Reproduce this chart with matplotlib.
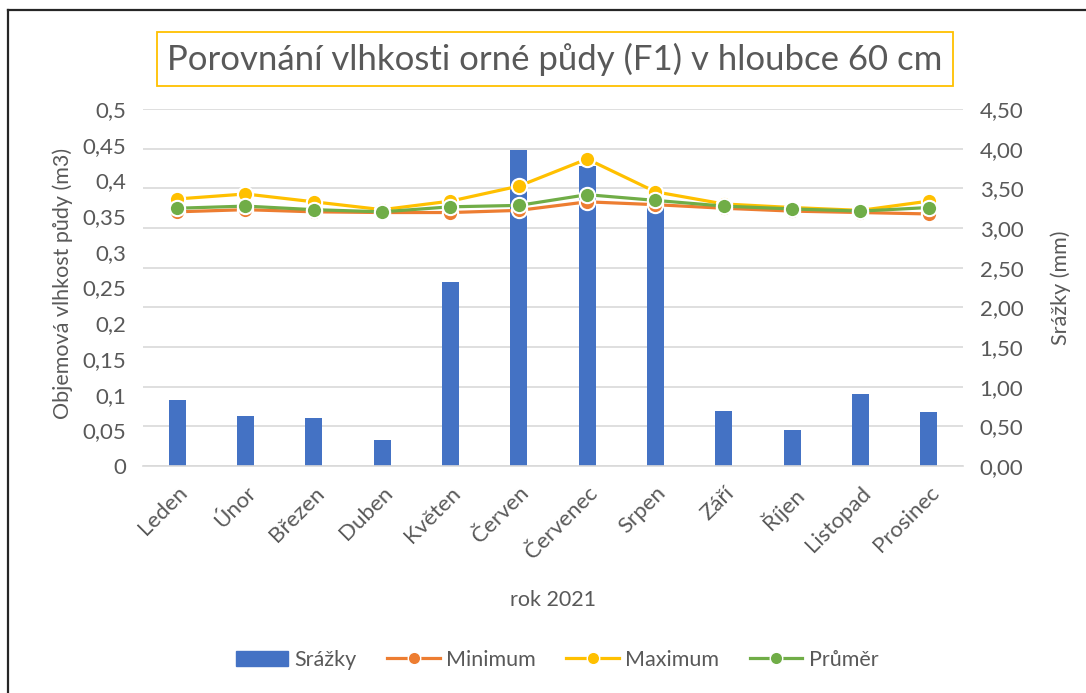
import numpy as np
import matplotlib
matplotlib.use('Agg')
import matplotlib.pyplot as plt
from matplotlib.lines import Line2D
from matplotlib.patches import Patch

plt.rcParams['font.family'] = ['Lato', 'DejaVu Sans']

mesice = ['Leden', 'Únor', 'Březen', 'Duben', 'Květen', 'Červen',
          'Červenec', 'Srpen', 'Září', 'Říjen', 'Listopad', 'Prosinec']
srazky = [0.83, 0.63, 0.61, 0.33, 2.32, 3.98, 3.78, 3.30, 0.69, 0.45, 0.91, 0.68]
minimum = [0.356, 0.359, 0.356, 0.355, 0.355, 0.358, 0.370, 0.366, 0.361, 0.357, 0.355, 0.353]
maximum = [0.374, 0.381, 0.370, 0.359, 0.371, 0.392, 0.430, 0.384, 0.367, 0.362, 0.358, 0.371]
prumer = [0.361, 0.364, 0.359, 0.356, 0.363, 0.365, 0.380, 0.372, 0.364, 0.360, 0.357, 0.362]

seda = '#595959'
x = np.arange(len(mesice))

fig = plt.figure(figsize=(10.86, 6.93), dpi=100)
ax = fig.add_axes([143/1086, 1 - 466/693, 820/1086, 357/693])
ax2 = ax.twinx()

# bars on the right axis, drawn behind the lines
ax2.bar(x, srazky, width=0.25, color='#4472C4', zorder=2)
ax2.set_ylim(0, 4.5)
ax2.set_yticks(np.arange(0, 4.51, 0.5))
ax2.set_yticklabels([f'{v:.2f}'.replace('.', ',') for v in np.arange(0, 4.51, 0.5)])
ax2.set_ylabel('Srážky (mm)', fontsize=15.5, color=seda)
ax2.yaxis.set_label_coords(1.107, 0.5)

ax.set_zorder(ax2.get_zorder() + 1)
ax.patch.set_visible(False)
for data, barva in [(minimum, '#ED7D31'), (maximum, '#FFC000'), (prumer, '#70AD47')]:
    ax.plot(x, data, color=barva, lw=2.3, marker='o', ms=11,
            markerfacecolor=barva, markeredgecolor='white', markeredgewidth=1.5)
ax.set_ylim(0, 0.5)
ax.set_xlim(-0.5, 11.5)
ax.set_yticks(np.arange(0, 0.501, 0.05))
ax.set_yticklabels(['0', '0,05', '0,1', '0,15', '0,2', '0,25', '0,3', '0,35', '0,4', '0,45', '0,5'])
ax.set_ylabel('Objemová vlhkost půdy (m3)', fontsize=15.5, color=seda)
ax.yaxis.set_label_coords(-0.085, 0.51)
ax.set_xticks(x)
ax.set_xticklabels(mesice, rotation=45, ha='right', rotation_mode='anchor')
ax.set_xlabel('rok 2021', fontsize=15.5, color=seda)
ax.xaxis.set_label_coords(0.5, -0.348)

ax2.grid(axis='y', color='#D9D9D9', lw=1.2, zorder=0)
ax2.set_axisbelow(True)
for a in (ax, ax2):
    for s in a.spines.values():
        s.set_visible(False)
    a.tick_params(length=0, labelsize=16, labelcolor=seda)
ax.spines['bottom'].set_visible(True)
ax.spines['bottom'].set_color('#D9D9D9')
ax.spines['bottom'].set_linewidth(1.2)
ax.tick_params(axis='x', pad=12, labelsize=16)
ax.tick_params(axis='y', pad=12)
ax2.tick_params(axis='y', pad=12)

fig.text(555/1086, 1 - 59/693, 'Porovnání vlhkosti orné půdy (F1) v hloubce 60 cm',
         ha='center', va='center', fontsize=25, color=seda,
         bbox=dict(boxstyle='square,pad=0.3', fc='white', ec='#FFC000', lw=1.3))

handles = [Patch(color='#4472C4', label='Srážky')]
for nazev, barva in [('Minimum', '#ED7D31'), ('Maximum', '#FFC000'), ('Průměr', '#70AD47')]:
    handles.append(Line2D([], [], color=barva, lw=2.3, marker='o', ms=9,
                          markeredgecolor='white', markeredgewidth=1, label=nazev))
leg = fig.legend(handles=handles, loc='center', bbox_to_anchor=(557/1086, 1 - 660/693),
                 ncol=4, frameon=False, fontsize=15.5, handlelength=2.45, columnspacing=1.4,
                 handletextpad=0.3)
for t in leg.get_texts():
    t.set_color(seda)

# chart border (only top and left edges visible)
fig.add_artist(Line2D([8/1086, 1], [1 - 10/693, 1 - 10/693], color='#262626', lw=1.6))
fig.add_artist(Line2D([8/1086, 8/1086], [0, 1 - 10/693], color='#262626', lw=1.6))

fig.savefig('out.png', dpi=100)
